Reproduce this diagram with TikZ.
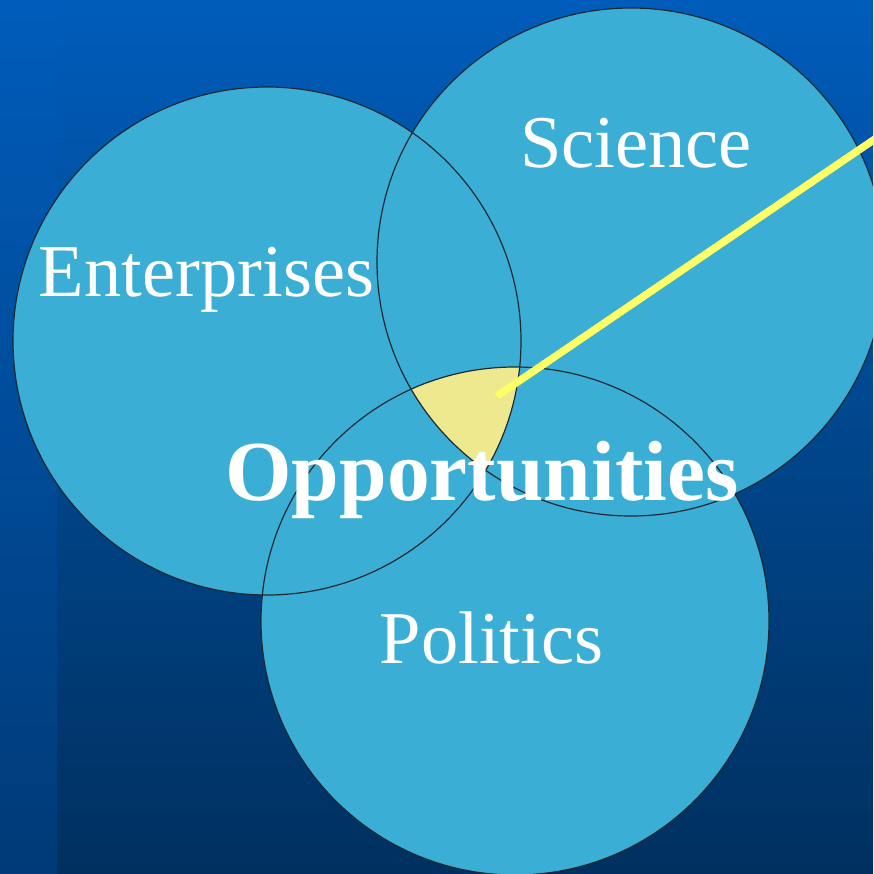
\documentclass[tikz,border=0pt]{standalone}
\usepackage{fontspec}
\setmainfont{Liberation Serif}
\definecolor{bgtop}{HTML}{005CBA}
\definecolor{bgbot}{HTML}{00305F}
\definecolor{bgbotL}{HTML}{003A77}
\definecolor{disc}{HTML}{3BAED5}
\definecolor{core}{HTML}{EEE88E}
\definecolor{ray}{HTML}{FFFF66}
\definecolor{rim}{HTML}{1E2A33}
\begin{document}
\begin{tikzpicture}[x=1pt,y=-1pt,
  disk/.style={circle,minimum size=508pt,inner sep=0pt,outer sep=0pt},
  lbl/.style={text=white,anchor=base,inner sep=0pt,font=\fontsize{74.5}{80}\selectfont},
  biglbl/.style={text=white,anchor=base,inner sep=0pt,font=\fontsize{85.5}{90}\selectfont\bfseries}]
\useasboundingbox (0,0) rectangle (873,874);
\clip (0,0) rectangle (873,874);
\shade[top color=bgtop,bottom color=bgbot] (0,0) rectangle (873,874);
\shade[top color=bgtop,bottom color=bgbotL] (0,0) rectangle (57,874);
% discs
\node[disk,fill=disc] (ent) at (267,341) {};
\node[disk,fill=disc] (sci) at (631,262) {};
\node[disk,fill=disc] (pol) at (515,621) {};
% triple intersection
\begin{scope}
  \clip (ent.center) circle[radius=254pt];
  \clip (sci.center) circle[radius=254pt];
  \fill[core] (pol.center) circle[radius=254pt];
\end{scope}
% outlines
\foreach \c in {ent,sci,pol}
  \draw[rim,line width=1.2pt] (\c.center) circle[radius=254pt];
% pointer
\coordinate (tip) at (497,396);
\coordinate (far) at (900,122);
\draw[ray,line width=7.5pt] (tip) -- (far);
% labels
\node[lbl] (tsci) at (636,168) {Science};
\node[lbl] (tent) at (206.5,296) {Enterprises};
\node[lbl] (tpol) at (491.5,663) {Politics};
\node[biglbl] (topp) at (482,500) {Opportunities};
\end{tikzpicture}
\end{document}
